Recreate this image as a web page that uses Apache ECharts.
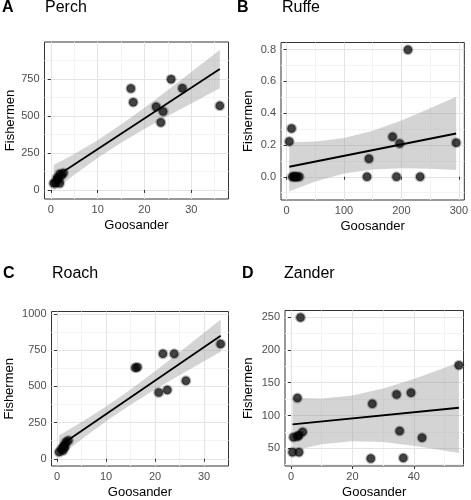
<!DOCTYPE html>
<html><head><meta charset="utf-8">
<script src="https://cdn.jsdelivr.net/npm/echarts@6/dist/echarts.min.js"></script>
<style>html,body{margin:0;padding:0;background:#fff}#c{width:471px;height:500px}</style>
</head><body><div id="c"></div>
<script>
// ---- Data ----
const perchX = [0.6, 1.0, 1.3, 1.6, 1.9, 1.9, 2.3, 2.7, 17.1, 17.6, 22.5, 23.5, 24.0, 25.7, 28.1, 36.1];
const perchY = [45, 48, 81, 70, 45, 108, 100, 114, 685, 593, 561, 456, 530, 748, 687, 568];
const perchLineX = [0.6, 36.1];
const perchLineY = [81, 816];
const perchBandX = [0.6, 5, 10, 15, 20, 25, 30, 36.1];
const perchBandHigh = [169, 243, 336, 442, 555, 675, 797, 945];
const perchBandLow = [-7, 103, 216, 318, 411, 499, 583, 687];

const ruffeX = [4.6, 8.6, 10, 13, 15, 18, 22, 140, 143.4, 184.6, 191.4, 197, 211.4, 232.6, 295.4];
const ruffeY = [0.222, 0.304, 0, 0, 0, 0, 0, 0, 0.113, 0.251, 0, 0.209, 0.798, 0, 0.214];
const ruffeLineX = [4.6, 295.4];
const ruffeLineY = [0.063, 0.272];
const ruffeBandX = [4.6, 50, 100, 150, 200, 250, 295.4];
const ruffeBandHigh = [0.217, 0.222, 0.244, 0.289, 0.354, 0.430, 0.503];
const ruffeBandLow = [-0.091, -0.030, 0.020, 0.046, 0.054, 0.050, 0.042];

const roachX = [0.4, 0.9, 1.2, 1.4, 1.6, 1.8, 2.3, 15.96, 16.4, 20.75, 21.6, 22.5, 23.9, 26.3, 33.4];
const roachY = [46, 68, 57, 91, 80, 114, 126, 628, 632, 457, 724, 475, 724, 539, 792];
const roachLineX = [0.4, 33.4];
const roachLineY = [87, 849];
const roachBandX = [0.4, 5, 10, 15, 20, 25, 30, 33.4];
const roachBandHigh = [160, 253, 360, 477, 603, 734, 869, 961];
const roachBandLow = [14, 134, 258, 372, 477, 577, 673, 738];

const zanderX = [0.5, 0.8, 2.1, 2.6, 2.6, 3.8, 2.1, 3.1, 26.0, 26.5, 34.4, 35.4, 36.6, 39.1, 42.7, 54.7];
const zanderY = [44, 67, 68, 70, 44, 75, 126.5, 249.5, 34.3, 117.8, 132, 76.3, 35.3, 134.6, 66.2, 176.6];
const zanderLineX = [0.5, 54.7];
const zanderLineY = [86.5, 111.8];
const zanderBandX = [0.5, 10, 20, 30, 40, 54.7];
const zanderBandHigh = [127, 126, 130.4, 141, 155.7, 180.8];
const zanderBandLow = [46, 56, 60.8, 59.5, 54, 42.8];

// tick labels
const perchXTicks = [0, 10, 20, 30], perchXMinor = [5, 15, 25, 35];
const perchYTicks = [0, 250, 500, 750], perchYMinor = [125, 375, 625, 875];
const ruffeXTicks = [0, 100, 200, 300], ruffeXMinor = [50, 150, 250];
const ruffeYTicks = [0, 0.2, 0.4, 0.6, 0.8], ruffeYMinor = [-0.1, 0.1, 0.3, 0.5, 0.7];
const roachXTicks = [0, 10, 20, 30], roachXMinor = [5, 15, 25];
const roachYTicks = [0, 250, 500, 750, 1000], roachYMinor = [125, 375, 625, 875];
const zanderXTicks = [0, 20, 40], zanderXMinor = [10, 30, 50];
const zanderYTicks = [50, 100, 150, 200, 250], zanderYMinor = [25, 75, 125, 175, 225];

const letters = ['A', 'B', 'C', 'D'];
const species = ['Perch', 'Ruffe', 'Roach', 'Zander'];

// ---- Layout ----
const FONT = 'Liberation Sans, Arial, sans-serif';
const panels = [
  {x: perchX, y: perchY, lx: perchLineX, ly: perchLineY, bx: perchBandX, hi: perchBandHigh, lo: perchBandLow,
   xt: perchXTicks, xm: perchXMinor, yt: perchYTicks, ym: perchYMinor, xlim: [-1.36, 37.96], ylim: [-61, 999],
   grid: {left: 44.5, top: 42, width: 184, height: 157}, dec: 0, yGap: 28, title: {lx: 2, sx: 45, top: 0}},
  {x: ruffeX, y: ruffeY, lx: ruffeLineX, ly: ruffeLineY, bx: ruffeBandX, hi: ruffeBandHigh, lo: ruffeBandLow,
   xt: ruffeXTicks, xm: ruffeXMinor, yt: ruffeYTicks, ym: ruffeYMinor, xlim: [-9.8, 309.6], ylim: [-0.146, 0.844],
   grid: {left: 281, top: 42.5, width: 186, height: 157.5}, dec: 1, yGap: 26, title: {lx: 237, sx: 282, top: 0}},
  {x: roachX, y: roachY, lx: roachLineX, ly: roachLineY, bx: roachBandX, hi: roachBandHigh, lo: roachBandLow,
   xt: roachXTicks, xm: roachXMinor, yt: roachYTicks, ym: roachYMinor, xlim: [-1.15, 35.0], ylim: [-50, 1016],
   grid: {left: 51.5, top: 311.5, width: 177, height: 156}, dec: 0, yGap: 36, title: {lx: 3, sx: 52, top: 266}},
  {x: zanderX, y: zanderY, lx: zanderLineX, ly: zanderLineY, bx: zanderBandX, hi: zanderBandHigh, lo: zanderBandLow,
   xt: zanderXTicks, xm: zanderXMinor, yt: zanderYTicks, ym: zanderYMinor, xlim: [-1.95, 56.2], ylim: [23, 260],
   grid: {left: 285, top: 310.5, width: 178.5, height: 156}, dec: 0, yGap: 30, title: {lx: 242, sx: 284, top: 266}}
];

const grids = [], xAxes = [], yAxes = [], series = [], titles = [];
panels.forEach((p, i) => {
  grids.push(Object.assign({show: true, borderColor: '#333333', borderWidth: 1, backgroundColor: '#fff', containLabel: false}, p.grid));
  const major = 2 * i;
  const tickLbl = {color: '#4d4d4d', fontSize: 11, fontFamily: FONT};
  xAxes.push({gridIndex: i, type: 'value', min: p.xlim[0], max: p.xlim[1], z: 1,
    name: 'Goosander', nameLocation: 'middle', nameGap: 20,
    nameTextStyle: {color: '#000', fontSize: 13, fontFamily: FONT},
    axisLine: {show: false},
    axisTick: {show: true, length: 3, lineStyle: {color: '#333'}, customValues: p.xt},
    axisLabel: Object.assign({margin: 5, customValues: p.xt}, tickLbl),
    splitLine: {show: true, lineStyle: {color: '#e4e4e4', width: 1}}});
  xAxes.push({gridIndex: i, type: 'value', min: p.xlim[0], max: p.xlim[1], z: 0, position: 'bottom',
    axisLine: {show: false}, axisLabel: {show: false},
    axisTick: {show: false, customValues: p.xm},
    splitLine: {show: true, lineStyle: {color: '#f3f3f3', width: 1}}});
  yAxes.push({gridIndex: i, type: 'value', min: p.ylim[0], max: p.ylim[1], z: 1,
    name: 'Fishermen', nameLocation: 'middle', nameGap: p.yGap, nameRotate: 90,
    nameTextStyle: {color: '#000', fontSize: 13, fontFamily: FONT},
    axisLine: {show: false},
    axisTick: {show: true, length: 3, lineStyle: {color: '#333'}, customValues: p.yt},
    axisLabel: Object.assign({margin: 5, customValues: p.yt, formatter: v => Number(v).toFixed(p.dec)}, tickLbl),
    splitLine: {show: true, lineStyle: {color: '#e4e4e4', width: 1}}});
  yAxes.push({gridIndex: i, type: 'value', min: p.ylim[0], max: p.ylim[1], z: 0, position: 'left',
    axisLine: {show: false}, axisLabel: {show: false},
    axisTick: {show: false, customValues: p.ym},
    splitLine: {show: true, lineStyle: {color: '#f3f3f3', width: 1}}});

  // confidence band polygon built through the axis scales
  series.push({type: 'custom', xAxisIndex: major, yAxisIndex: major, silent: true, z: 2,
    data: [[p.bx[0], p.lo[0]]],
    renderItem: (params, api) => {
      const pts = [];
      p.bx.forEach((v, k) => pts.push(api.coord([v, p.hi[k]])));
      for (let k = p.bx.length - 1; k >= 0; k--) pts.push(api.coord([p.bx[k], p.lo[k]]));
      return {type: 'polygon', shape: {points: pts}, style: {fill: 'rgba(153,153,153,0.42)'}};
    }});
  series.push({type: 'scatter', xAxisIndex: major, yAxisIndex: major,
    data: p.x.map((v, k) => [v, p.y[k]]), symbolSize: 8.5,
    itemStyle: {color: 'rgba(0,0,0,0.92)', borderColor: 'rgba(0,0,0,0.32)', borderWidth: 2.5}, z: 3});
  series.push({type: 'line', xAxisIndex: major, yAxisIndex: major,
    data: p.lx.map((v, k) => [v, p.ly[k]]), symbol: 'none', silent: true,
    lineStyle: {color: '#000', width: 1.8}, z: 4});

  titles.push({text: letters[i], left: p.title.lx, top: p.title.top, padding: 0,
    textStyle: {fontSize: 16, fontWeight: 'bold', color: '#000', fontFamily: FONT}});
  titles.push({text: species[i], left: p.title.sx, top: p.title.top, padding: 0,
    textStyle: {fontSize: 16, fontWeight: 'normal', color: '#000', fontFamily: FONT}});
});

const chart = echarts.init(document.getElementById('c'), null, {renderer: 'canvas'});
chart.setOption({
  animation: false,
  backgroundColor: '#fff',
  title: titles,
  grid: grids,
  xAxis: xAxes,
  yAxis: yAxes,
  series: series
});
</script>
</body></html>
